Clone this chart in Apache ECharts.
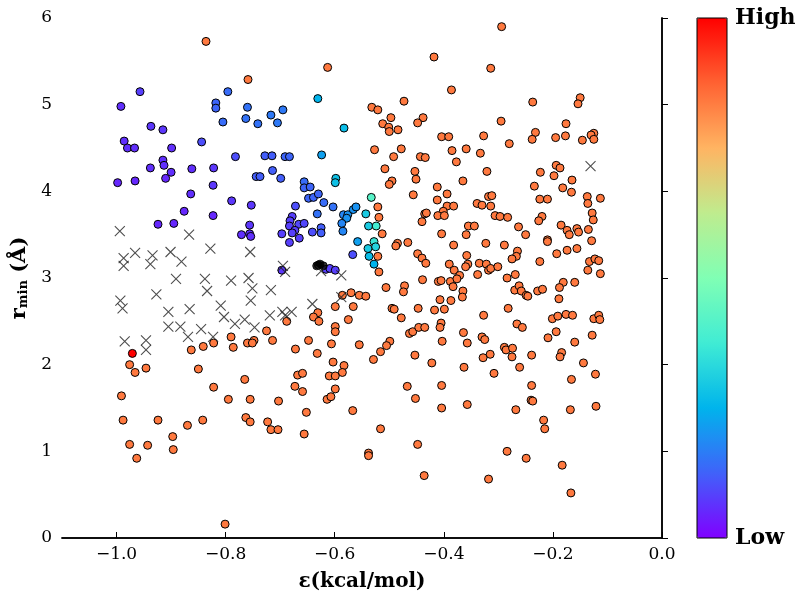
<!DOCTYPE html>
<html>
<head>
<meta charset="utf-8">
<script src="https://cdn.jsdelivr.net/npm/echarts@6.0.0/dist/echarts.min.js"></script>
<style>
  html, body { margin: 0; padding: 0; background: #fff; }
  #chart { width: 800px; height: 602px; }
</style>
</head>
<body>
<div id="chart"></div>
<script>
// tick positions
var xTicks = [-1.0, -0.8, -0.6, -0.4, -0.2, 0.0]
var yTicks = [0, 1, 2, 3, 4, 5, 6]

// colour level (0 = Low, 1 = High) shared by all orange points
var orangeLevel = 0.84

// [eps, rmin] orange points
var orangePts = [
  [-0.836, 5.73], [-0.759, 5.29],
  [-0.613, 5.43], [-0.418, 5.55], [-0.386, 5.17], [-0.532, 4.97], [-0.521, 4.94], [-0.473, 5.04],
  [-0.497, 4.85], [-0.512, 4.78], [-0.501, 4.74], [-0.500, 4.69], [-0.484, 4.71], [-0.438, 4.85],
  [-0.448, 4.79], [-0.404, 4.63], [-0.391, 4.63], [-0.527, 4.48], [-0.478, 4.49], [-0.385, 4.47],
  [-0.294, 5.90], [-0.314, 5.42], [-0.237, 5.03], [-0.150, 5.08], [-0.154, 5.01], [-0.295, 4.81],
  [-0.176, 4.78], [-0.327, 4.64], [-0.232, 4.68], [-0.238, 4.60], [-0.195, 4.62], [-0.177, 4.64],
  [-0.125, 4.67], [-0.130, 4.65], [-0.125, 4.60], [-0.146, 4.59], [-0.280, 4.55], [-0.359, 4.49],
  [-0.492, 4.40], [-0.443, 4.40], [-0.434, 4.39], [-0.377, 4.34], [-0.508, 4.26], [-0.453, 4.23],
  [-0.451, 4.14], [-0.495, 4.12], [-0.500, 4.08], [-0.412, 4.05], [-0.456, 3.96], [-0.394, 3.97],
  [-0.412, 3.90], [-0.521, 3.82], [-0.394, 3.83], [-0.382, 3.83], [-0.401, 3.77], [-0.435, 3.74],
  [-0.432, 3.75], [-0.411, 3.72], [-0.399, 3.72], [-0.519, 3.70], [-0.440, 3.65], [-0.513, 3.51],
  [-0.404, 3.51], [-0.485, 3.40], [-0.488, 3.37], [-0.466, 3.41], [-0.382, 3.38], [-0.448, 3.28],
  [-0.440, 3.23], [-0.433, 3.17], [-0.521, 3.25], [-0.519, 3.07], [-0.390, 3.16], [-0.381, 3.09],
  [-0.371, 3.03],
  [-0.333, 4.44], [-0.321, 4.23], [-0.365, 4.12], [-0.223, 4.22], [-0.194, 4.30], [-0.187, 4.27],
  [-0.198, 4.18], [-0.165, 4.13], [-0.234, 4.06], [-0.182, 4.04], [-0.166, 3.99], [-0.137, 3.94],
  [-0.113, 3.92], [-0.136, 3.86], [-0.224, 3.91], [-0.210, 3.91], [-0.318, 3.94], [-0.312, 3.95],
  [-0.314, 3.83], [-0.339, 3.86], [-0.330, 3.84], [-0.128, 3.75], [-0.126, 3.67], [-0.220, 3.71],
  [-0.226, 3.66], [-0.306, 3.72], [-0.297, 3.71], [-0.283, 3.70], [-0.355, 3.60], [-0.344, 3.60],
  [-0.359, 3.50], [-0.263, 3.59], [-0.250, 3.50], [-0.185, 3.61], [-0.174, 3.55], [-0.170, 3.50],
  [-0.156, 3.57], [-0.153, 3.53], [-0.135, 3.56], [-0.129, 3.43], [-0.210, 3.44], [-0.210, 3.42],
  [-0.323, 3.40], [-0.289, 3.38], [-0.265, 3.31], [-0.267, 3.25], [-0.275, 3.22], [-0.224, 3.19],
  [-0.193, 3.28], [-0.174, 3.32], [-0.156, 3.34], [-0.358, 3.26], [-0.356, 3.16], [-0.360, 3.13],
  [-0.335, 3.17], [-0.322, 3.16], [-0.318, 3.09], [-0.314, 3.11], [-0.301, 3.13], [-0.338, 3.04],
  [-0.269, 3.04], [-0.284, 3.00], [-0.133, 3.19], [-0.123, 3.22], [-0.116, 3.20], [-0.136, 3.09],
  [-0.113, 3.05],
  [-0.790, 2.32], [-0.822, 2.25], [-0.841, 2.21], [-0.863, 2.17], [-0.786, 2.20], [-0.760, 2.25],
  [-0.748, 2.28], [-0.751, 2.25], [-0.976, 2.00], [-0.966, 1.91], [-0.946, 1.96], [-0.850, 1.95],
  [-0.822, 1.74], [-0.765, 1.83], [-0.991, 1.64], [-0.795, 1.60], [-0.755, 1.60],
  [-0.586, 2.80], [-0.570, 2.83], [-0.555, 2.80], [-0.543, 2.79], [-0.506, 2.89], [-0.472, 2.91],
  [-0.474, 2.84], [-0.439, 2.98], [-0.410, 2.96], [-0.405, 2.97], [-0.388, 2.96], [-0.376, 2.99],
  [-0.383, 2.90], [-0.407, 2.75], [-0.387, 2.74], [-0.599, 2.67], [-0.566, 2.67], [-0.631, 2.60],
  [-0.639, 2.55], [-0.629, 2.50], [-0.688, 2.50], [-0.495, 2.65], [-0.491, 2.64], [-0.447, 2.65],
  [-0.417, 2.63], [-0.399, 2.64], [-0.478, 2.54], [-0.575, 2.52], [-0.599, 2.44], [-0.599, 2.38],
  [-0.725, 2.39], [-0.714, 2.28], [-0.463, 2.36], [-0.457, 2.38], [-0.446, 2.43], [-0.435, 2.43],
  [-0.405, 2.48], [-0.407, 2.43], [-0.403, 2.27], [-0.648, 2.28], [-0.606, 2.24], [-0.555, 2.23],
  [-0.499, 2.27], [-0.505, 2.22], [-0.516, 2.15], [-0.672, 2.18], [-0.632, 2.13], [-0.453, 2.11],
  [-0.529, 2.06], [-0.422, 2.02], [-0.603, 2.03], [-0.583, 1.99], [-0.586, 1.91], [-0.668, 1.88],
  [-0.659, 1.90], [-0.610, 1.87], [-0.599, 1.87], [-0.673, 1.75], [-0.659, 1.69], [-0.599, 1.72],
  [-0.467, 1.75], [-0.404, 1.76], [-0.614, 1.60], [-0.607, 1.63], [-0.452, 1.61], [-0.703, 1.58],
  [-0.181, 2.95], [-0.160, 2.95], [-0.188, 2.89], [-0.228, 2.85], [-0.219, 2.87], [-0.270, 2.86],
  [-0.262, 2.91], [-0.258, 2.85], [-0.249, 2.80], [-0.246, 2.79], [-0.365, 2.85], [-0.366, 2.78],
  [-0.189, 2.76], [-0.282, 2.65], [-0.327, 2.57], [-0.201, 2.53], [-0.191, 2.56], [-0.176, 2.58],
  [-0.164, 2.57], [-0.125, 2.53], [-0.116, 2.57], [-0.114, 2.52], [-0.266, 2.47], [-0.256, 2.43],
  [-0.364, 2.37], [-0.330, 2.32], [-0.325, 2.29], [-0.357, 2.25], [-0.194, 2.38], [-0.209, 2.31],
  [-0.128, 2.34], [-0.160, 2.26], [-0.289, 2.20], [-0.286, 2.17], [-0.274, 2.19], [-0.315, 2.12],
  [-0.328, 2.08], [-0.275, 2.09], [-0.239, 2.11], [-0.184, 2.14], [-0.187, 2.09], [-0.363, 1.97],
  [-0.261, 1.97], [-0.144, 2.02], [-0.308, 1.90], [-0.122, 1.89], [-0.166, 1.83], [-0.239, 1.76],
  [-0.240, 1.59], [-0.237, 1.58], [-0.357, 1.54],
  [-0.988, 1.36], [-0.924, 1.36], [-0.870, 1.30], [-0.842, 1.36], [-0.763, 1.39], [-0.755, 1.34],
  [-0.897, 1.17], [-0.976, 1.08], [-0.943, 1.07], [-0.896, 1.02], [-0.963, 0.92], [-0.801, 0.16],
  [-0.652, 1.45], [-0.567, 1.47], [-0.404, 1.50], [-0.723, 1.34], [-0.717, 1.25], [-0.704, 1.25],
  [-0.656, 1.20], [-0.516, 1.26], [-0.448, 1.08], [-0.538, 0.98], [-0.538, 0.95], [-0.436, 0.72],
  [-0.268, 1.48], [-0.168, 1.48], [-0.121, 1.52], [-0.217, 1.36], [-0.215, 1.26], [-0.284, 1.00],
  [-0.249, 0.92], [-0.183, 0.84], [-0.318, 0.68], [-0.167, 0.52]
]

// [eps, rmin, level] purple / blue / cyan points
var coolPts = [
  [-0.957, 5.15, 0.08], [-0.992, 4.98, 0.06], [-0.796, 5.15, 0.14], [-0.818, 5.02, 0.13],
  [-0.818, 4.96, 0.13], [-0.760, 4.97, 0.15], [-0.805, 4.80, 0.14], [-0.763, 4.84, 0.15],
  [-0.741, 4.78, 0.15], [-0.937, 4.75, 0.07], [-0.915, 4.71, 0.07], [-0.986, 4.58, 0.06],
  [-0.844, 4.57, 0.10], [-0.980, 4.50, 0.06], [-0.967, 4.50, 0.06], [-0.899, 4.50, 0.06],
  [-0.782, 4.40, 0.10], [-0.915, 4.36, 0.06], [-0.913, 4.30, 0.06], [-0.938, 4.27, 0.06],
  [-0.900, 4.22, 0.06], [-0.910, 4.15, 0.05], [-0.862, 4.26, 0.06], [-0.822, 4.27, 0.07],
  [-0.998, 4.10, 0.05], [-0.966, 4.12, 0.05], [-0.823, 4.07, 0.07], [-0.744, 4.17, 0.12],
  [-0.737, 4.17, 0.12], [-0.864, 3.97, 0.06], [-0.789, 3.89, 0.07], [-0.753, 3.84, 0.07],
  [-0.876, 3.77, 0.05], [-0.823, 3.72, 0.05], [-0.895, 3.63, 0.05], [-0.924, 3.62, 0.05],
  [-0.756, 3.61, 0.07], [-0.771, 3.50, 0.06], [-0.756, 3.51, 0.06], [-0.754, 3.48, 0.06],
  [-0.631, 5.07, 0.25], [-0.695, 4.94, 0.16], [-0.717, 4.88, 0.16], [-0.705, 4.79, 0.16],
  [-0.583, 4.73, 0.27],
  [-0.728, 4.41, 0.12], [-0.715, 4.41, 0.12], [-0.691, 4.40, 0.13], [-0.683, 4.40, 0.13],
  [-0.624, 4.42, 0.22], [-0.714, 4.24, 0.12], [-0.699, 4.15, 0.12], [-0.656, 4.11, 0.14],
  [-0.656, 4.04, 0.13], [-0.645, 4.05, 0.13], [-0.648, 3.92, 0.13], [-0.639, 3.93, 0.13],
  [-0.630, 3.97, 0.13], [-0.620, 3.87, 0.14], [-0.603, 3.82, 0.15], [-0.598, 4.15, 0.28],
  [-0.599, 4.10, 0.28], [-0.533, 3.93, 0.42], [-0.672, 3.83, 0.10], [-0.632, 3.74, 0.15],
  [-0.678, 3.71, 0.08], [-0.682, 3.66, 0.08], [-0.683, 3.60, 0.08], [-0.666, 3.62, 0.09],
  [-0.656, 3.63, 0.09], [-0.673, 3.55, 0.08], [-0.678, 3.52, 0.08], [-0.697, 3.51, 0.08],
  [-0.683, 3.41, 0.08], [-0.665, 3.46, 0.08], [-0.641, 3.53, 0.10], [-0.625, 3.58, 0.12],
  [-0.625, 3.52, 0.12], [-0.584, 3.73, 0.18], [-0.576, 3.73, 0.20], [-0.578, 3.69, 0.20],
  [-0.587, 3.63, 0.18], [-0.585, 3.54, 0.18], [-0.566, 3.79, 0.20], [-0.561, 3.82, 0.20],
  [-0.543, 3.74, 0.30], [-0.538, 3.60, 0.30], [-0.524, 3.60, 0.38], [-0.558, 3.42, 0.22],
  [-0.528, 3.42, 0.36], [-0.539, 3.34, 0.30], [-0.525, 3.36, 0.32], [-0.537, 3.25, 0.27],
  [-0.528, 3.16, 0.25], [-0.567, 3.27, 0.10], [-0.697, 3.09, 0.07], [-0.616, 3.10, 0.08],
  [-0.609, 3.11, 0.08], [-0.599, 3.09, 0.08]
]

// [eps, rmin, level] the single red point
var redPts = [[-0.971, 2.13, 1.0]]

// [eps, rmin] black points
var blackPts = [[-0.633, 3.14], [-0.627, 3.16], [-0.621, 3.14], [-0.630, 3.15]]

// [eps, rmin] crosses
var crossPts = [
  [-0.994, 3.54], [-0.867, 3.50], [-0.828, 3.34], [-0.755, 3.30], [-0.901, 3.30], [-0.966, 3.29],
  [-0.934, 3.26], [-0.987, 3.23], [-0.881, 3.19], [-0.938, 3.16], [-0.987, 3.14], [-0.891, 2.99],
  [-0.838, 2.99], [-0.834, 2.85], [-0.790, 2.97], [-0.758, 3.00], [-0.751, 2.88], [-0.754, 2.74],
  [-0.993, 2.74], [-0.989, 2.65], [-0.927, 2.81], [-0.905, 2.61], [-0.866, 2.64], [-0.809, 2.68],
  [-0.803, 2.55], [-0.783, 2.47], [-0.765, 2.52], [-0.747, 2.43], [-0.905, 2.44], [-0.883, 2.44],
  [-0.845, 2.41], [-0.869, 2.32], [-0.823, 2.32], [-0.985, 2.27], [-0.946, 2.28], [-0.946, 2.17],
  [-0.695, 3.14], [-0.691, 3.07], [-0.625, 3.08], [-0.588, 3.03], [-0.717, 2.86], [-0.719, 2.57],
  [-0.696, 2.61], [-0.691, 2.57], [-0.679, 2.61], [-0.641, 2.70], [-0.588, 2.78], [-0.131, 4.29]
]

// rainbow colormap, Low -> High
var rainbow = ['#8000ff', '#4062fa', '#00b4ec', '#40ecd4', '#80ffb4', '#bfec8e', '#ffb462', '#ff6232', '#ff0000']

var FONT = 'DejaVu Serif'
var chart = echarts.init(document.getElementById('chart'))

function fmtX(v) {
  return v.toFixed(1).replace('-', '\u2212')
}

var circleStyle = { borderColor: '#000', borderWidth: 1, opacity: 1 }

chart.setOption({
  animation: false,
  backgroundColor: '#fff',
  grid: { left: 62, top: 18, width: 600, height: 520 },
  xAxis: [{
    type: 'value', min: -1.1, max: 0, position: 'bottom',
    axisLine: { lineStyle: { color: '#000', width: 1.5 } },
    axisTick: { inside: true, length: 6, customValues: xTicks, lineStyle: { color: '#000' } },
    axisLabel: { customValues: xTicks, formatter: fmtX, color: '#000', fontFamily: FONT, fontSize: 17, margin: 8 },
    splitLine: { show: false },
    name: '\u03b5(kcal/mol)', nameLocation: 'middle', nameGap: 34,
    nameTextStyle: { color: '#000', fontFamily: FONT, fontWeight: 'bold', fontSize: 20 }
  }, {
    // top frame edge, ticks pointing down into the plot
    type: 'value', min: -1.1, max: 0, position: 'top',
    axisLine: { lineStyle: { color: '#000', width: 1.5 } },
    axisTick: { inside: false, length: 6, customValues: xTicks, lineStyle: { color: '#000' } },
    axisLabel: { show: false },
    splitLine: { show: false }
  }],
  yAxis: [{
    type: 'value', min: 0, max: 6, interval: 1, position: 'left',
    axisLine: { lineStyle: { color: '#000', width: 1.5 } },
    axisTick: { inside: true, length: 6, lineStyle: { color: '#000' } },
    axisLabel: { color: '#000', fontFamily: FONT, fontSize: 17, margin: 10 },
    splitLine: { show: false },
    name: '{r|r}{s|min}{r| (\u00c5)}', nameLocation: 'middle', nameGap: 30, nameRotate: 90,
    nameTextStyle: {
      color: '#000',
      rich: {
        r: { fontFamily: FONT, fontWeight: 'bold', fontSize: 21, color: '#000', verticalAlign: 'bottom', lineHeight: 28 },
        s: { fontFamily: FONT, fontWeight: 'bold', fontSize: 13, color: '#000', verticalAlign: 'bottom', lineHeight: 22 }
      }
    }
  }, {
    // right frame edge
    type: 'value', min: 0, max: 6, interval: 1, position: 'right',
    axisLine: { lineStyle: { color: '#000', width: 1.5 } },
    axisTick: { inside: false, length: 6, lineStyle: { color: '#000' } },
    axisLabel: { show: false },
    splitLine: { show: false }
  }],
  visualMap: {
    type: 'continuous', min: 0, max: 1, dimension: 2, seriesIndex: [0, 1, 2],
    calculable: false, hoverLink: false, orient: 'vertical',
    left: 697, top: 18, padding: 0, itemWidth: 30, itemHeight: 520,
    inRange: { color: rainbow }
  },
  graphic: [
    { type: 'rect', shape: { x: 697, y: 18, width: 30, height: 520 }, style: { fill: 'none', stroke: '#000', lineWidth: 1 }, z: 100 },
    { type: 'text', x: 735, y: 18, style: { text: 'High', fill: '#000', font: 'bold 22px "DejaVu Serif"', verticalAlign: 'middle' } },
    { type: 'text', x: 735, y: 538, style: { text: 'Low', fill: '#000', font: 'bold 22px "DejaVu Serif"', verticalAlign: 'middle' } }
  ],
  series: [{
    type: 'scatter', symbol: 'circle', symbolSize: 8,
    data: orangePts.map(function (p) { return [p[0], p[1], orangeLevel] }),
    itemStyle: circleStyle
  }, {
    type: 'scatter', symbol: 'circle', symbolSize: 8,
    data: coolPts,
    itemStyle: circleStyle
  }, {
    type: 'scatter', symbol: 'circle', symbolSize: 8,
    data: redPts,
    itemStyle: circleStyle
  }, {
    type: 'scatter', symbol: 'circle', symbolSize: 8,
    data: blackPts,
    itemStyle: { color: '#000', borderColor: '#000', borderWidth: 1 }
  }, {
    type: 'scatter', symbol: 'path://M0,0L10,10M10,0L0,10', symbolSize: 10,
    data: crossPts,
    itemStyle: { color: 'none', borderColor: '#222', borderWidth: 1.1 }
  }]
})
</script>
</body>
</html>
